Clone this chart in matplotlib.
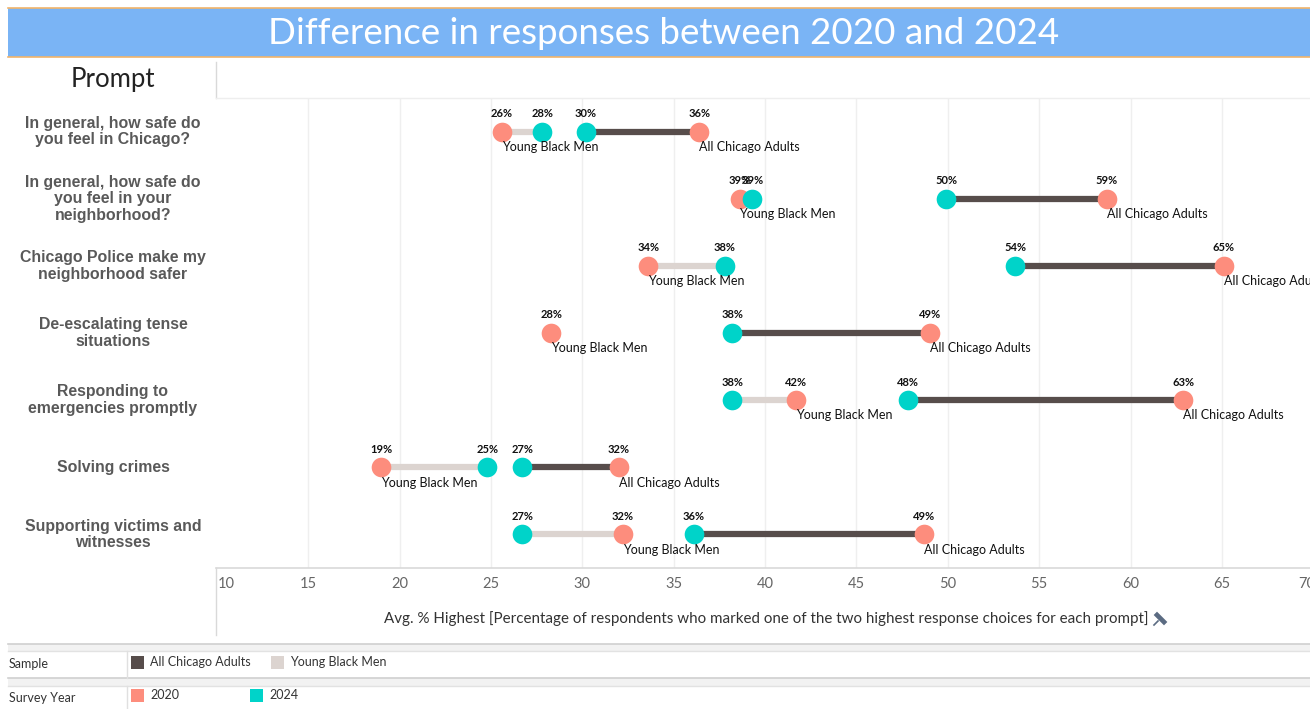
import matplotlib
matplotlib.use("Agg")
import matplotlib.pyplot as plt
from matplotlib.patches import Rectangle
from matplotlib.lines import Line2D
import numpy as np

W, H = 1310, 709

prompts = [
    "In general, how safe do\nyou feel in Chicago?",
    "In general, how safe do\nyou feel in your\nneighborhood?",
    "Chicago Police make my\nneighborhood safer",
    "De-escalating tense\nsituations",
    "Responding to\nemergencies promptly",
    "Solving crimes",
    "Supporting victims and\nwitnesses",
]
samples = ["All Chicago Adults", "Young Black Men"]
years = ["2020", "2024"]

# values per prompt (nan = no response that year)
all_2020 = [36.4, 58.7, 65.1, 49.0, 62.9, 32.0, 48.7]
all_2024 = [30.2, 49.9, 53.7, 38.2, 47.8, 26.7, 36.1]
ybm_2020 = [25.6, 38.6, 33.6, 28.3, 41.7, 19.0, 32.2]
ybm_2024 = [27.8, 39.3, 37.8, np.nan, 38.2, 24.8, 26.7]

x_ticks = [10, 15, 20, 25, 30, 35, 40, 45, 50, 55, 60, 65, 70]

C_ALL = "#574d4b"
C_YBM = "#dcd4d0"
C_2020 = "#fd8d7d"
C_2024 = "#00d3c9"
GRID = "#efefef"
SEP = "#d9d9d9"
PX_PER_UNIT = 18.27


def fx(px):
    return px / W


def fy(py):
    return 1 - py / H


def line(xs, ys, **kw):
    fig.add_artist(Line2D([fx(v) for v in xs], [fy(v) for v in ys],
                          transform=fig.transFigure, **kw))


fig = plt.figure(figsize=(W / 100, H / 100), dpi=100)
fig.patch.set_facecolor("white")

# title band
fig.patches.append(Rectangle((fx(8), fy(57)), fx(1310 - 8), (57 - 8) / H,
                             transform=fig.transFigure, facecolor="#7ab4f5",
                             edgecolor="none", zorder=0))
for yy in (8, 57):
    line([8, W], [yy, yy], color="#f2b46a", lw=1.2)
fig.text(fx(664), fy(34), "Difference in responses between 2020 and 2024",
         ha="center", va="center", color="white", fontsize=26.5, family="Lato")

# row header
fig.text(fx(113), fy(80), "Prompt", ha="center", va="center", fontsize=18.5,
         color="#222222", family="Lato")
line([216, 216], [62, 98], color=SEP, lw=1)
line([216, W], [98, 98], color="#eeeeee", lw=1)

# main plot
x_left = 10
x_right = 10 + (W - 217) / PX_PER_UNIT
ax = fig.add_axes([fx(217), fy(568), 1 - fx(217), (568 - 98) / H])
ax.set_xlim(x_left, x_right)
ax.set_ylim(len(prompts) - 0.5, -0.5)
for s in ax.spines.values():
    s.set_visible(False)
ax.set_xticks([])
ax.set_yticks([])
for t in x_ticks[1:-1]:
    ax.axvline(t, color=GRID, lw=1, zorder=0)

rows = np.arange(len(prompts))
series = [(all_2020, all_2024, C_ALL, samples[0]),
          (ybm_2020, ybm_2024, C_YBM, samples[1])]
for v20, v24, lc, name in series:
    for i in rows:
        a, b = v20[i], v24[i]
        if not (np.isnan(a) or np.isnan(b)):
            ax.plot([a, b], [i, i], color=lc, lw=4.5, solid_capstyle="butt", zorder=2)
for v20, v24, lc, name in series:
    for vals, col in ((v20, C_2020), (v24, C_2024)):
        ax.scatter(vals, rows, s=200, color=col, zorder=3, linewidths=0)
        for i in rows:
            if np.isnan(vals[i]):
                continue
            ax.annotate(f"{round(vals[i]):.0f}%", (vals[i], i), xytext=(0, 13),
                        textcoords="offset points", ha="center", va="center",
                        fontsize=8, fontweight="bold", color="#111111",
                        family="Lato", annotation_clip=False)
    for i in rows:
        if np.isnan(v20[i]):
            continue
        ax.annotate(name, (v20[i], i), xytext=(0, -11), textcoords="offset points",
                    ha="left", va="center", fontsize=9, color="#111111",
                    family="Lato", annotation_clip=False)

# row labels
for i, p in enumerate(prompts):
    yy = 98 + (i + 0.5) * (470 / len(prompts))
    fig.text(fx(113), fy(yy), p, ha="center", va="center", fontsize=11.4,
             fontweight="bold", color="#595959", family="Liberation Sans",
             linespacing=1.12)

# x axis area
line([216, W], [568, 568], color=SEP, lw=1.2)
line([216, 216], [568, 635], color=SEP, lw=1)
for t in x_ticks:
    px = 217 + (t - 10) * PX_PER_UNIT
    if t == x_ticks[0]:
        fig.text(fx(218), fy(584), str(t), ha="left", va="center",
                 fontsize=10.5, color="#666666", family="Lato")
    elif t == x_ticks[-1]:
        fig.text(fx(1298), fy(584), str(t), ha="left", va="center",
                 fontsize=10.5, color="#666666", family="Lato")
    else:
        fig.text(fx(px), fy(584), str(t), ha="center", va="center",
                 fontsize=10.5, color="#666666", family="Lato")
fig.text(fx(766), fy(619),
         "Avg. % Highest [Percentage of respondents who marked one of the two "
         "highest response choices for each prompt]",
         ha="center", va="center", fontsize=10.9, color="#333333", family="Lato")
# pin icon
line([1154, 1158], [625, 621], color="#5b6b82", lw=1.2)
line([1157, 1164], [615, 622], color="#5b6b82", lw=3.4)

# legend bands
for y0, y1 in ((644, 651), (678, 686)):
    fig.patches.append(Rectangle((fx(8), fy(y1)), 1 - fx(8), (y1 - y0) / H,
                                 transform=fig.transFigure, facecolor="#f2f2f2",
                                 edgecolor="none"))
    line([8, W], [y0, y0], color="#d0d0d0", lw=1.2)
    line([8, W], [y1, y1], color="#e2e2e2", lw=1)
for y0, y1 in ((651, 678), (686, 709)):
    line([127, 127], [y0, y1], color="#e0e0e0", lw=1)


def swatch(px, py, col):
    fig.patches.append(Rectangle((fx(px), fy(py + 13)), 13 / W, 13 / H,
                                 transform=fig.transFigure, facecolor=col,
                                 edgecolor="none"))


fig.text(fx(9), fy(664), "Sample", ha="left", va="center", fontsize=9,
         color="#333333", family="Lato")
swatch(131, 656, C_ALL)
fig.text(fx(150), fy(662), samples[0], ha="left", va="center", fontsize=9,
         color="#333333", family="Lato")
swatch(271, 656, C_YBM)
fig.text(fx(290), fy(662), samples[1], ha="left", va="center", fontsize=9,
         color="#333333", family="Lato")

fig.text(fx(9), fy(698), "Survey Year", ha="left", va="center", fontsize=9,
         color="#333333", family="Lato")
swatch(131, 689, C_2020)
fig.text(fx(150), fy(695), years[0], ha="left", va="center", fontsize=9,
         color="#333333", family="Lato")
swatch(250, 689, C_2024)
fig.text(fx(269), fy(695), years[1], ha="left", va="center", fontsize=9,
         color="#333333", family="Lato")

fig.savefig("out.png", dpi=100)
